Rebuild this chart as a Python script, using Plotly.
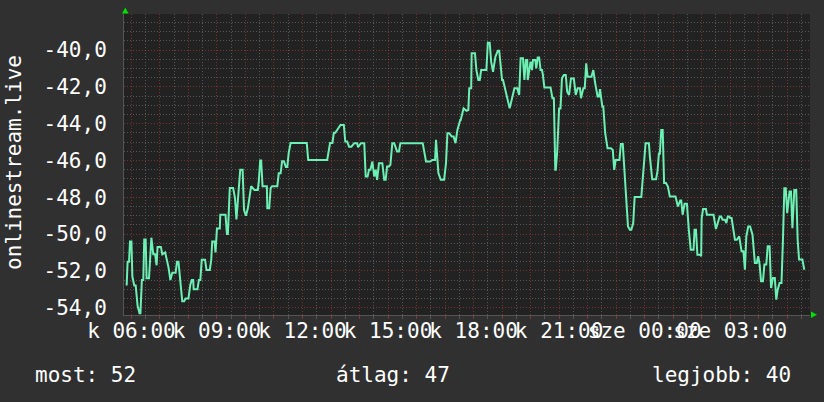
"""RRDtool-style signal chart for onlinestream.live, rebuilt with Plotly."""
import plotly.graph_objects as go

# sample times (tuesday 05:50 -> wednesday 05:36) and signal level in dB
TIMES = [
    "05:50", "05:52", "05:55", "05:57", "06:00", "06:02", "06:06", "06:09", "06:13", "06:17",
    "06:19", "06:22", "06:25", "06:27", "06:30", "06:32", "06:37", "06:42", "06:46", "06:50",
    "06:53", "06:55", "07:02", "07:05", "07:11", "07:18", "07:22", "07:26", "07:33", "07:36",
    "07:39", "07:42", "07:47", "07:51", "07:54", "08:00", "08:04", "08:07", "08:10", "08:11",
    "08:19", "08:22", "08:25", "08:28", "08:35", "08:38", "08:45", "08:48", "08:50", "08:55",
    "08:57", "09:00", "09:06", "09:07", "09:18", "09:21", "09:23", "09:27", "09:34", "09:38",
    "09:41", "09:49", "09:54", "09:57", "10:01", "10:05", "10:12", "10:19", "10:26", "10:28",
    "10:31", "10:33", "10:36", "10:45", "10:46", "10:50", "10:53", "10:56", "11:07", "11:10",
    "11:14", "11:17", "11:21", "11:25", "11:28", "11:31", "11:35", "12:09", "12:12", "12:52",
    "12:58", "13:03", "13:06", "13:09", "13:20", "13:27", "13:30", "13:34", "13:38", "13:43",
    "13:49", "13:55", "13:57", "14:03", "14:10", "14:13", "14:17", "14:20", "14:23", "14:27",
    "14:31", "14:34", "14:37", "14:41", "14:48", "14:52", "14:55", "14:58", "15:02", "15:05",
    "15:09", "15:13", "15:19", "15:23", "15:26", "16:13", "16:16", "16:20", "16:29", "16:33",
    "16:39", "16:41", "16:46", "16:51", "16:58", "17:02", "17:05", "17:09", "17:14", "17:18",
    "17:22", "17:26", "17:32", "17:33", "17:39", "17:45", "17:49", "17:51", "17:55", "17:56",
    "18:03", "18:06", "18:10", "18:13", "18:16", "18:27", "18:30", "18:34", "18:37", "18:41",
    "18:46", "18:51", "18:54", "19:00", "19:02", "19:07", "19:12", "19:16", "19:21", "19:26",
    "19:32", "19:36", "19:39", "19:44", "19:47", "19:50", "19:53", "19:54", "20:00", "20:03",
    "20:05", "20:10", "20:12", "20:15", "20:18", "20:21", "20:24", "20:26", "20:29", "20:42",
    "20:46", "20:49", "20:52", "20:53", "20:56", "21:00", "21:03", "21:06", "21:10", "21:14",
    "21:17", "21:21", "21:25", "21:31", "21:35", "21:39", "21:44", "21:46", "21:51", "21:54",
    "21:57", "22:00", "22:08", "22:12", "22:16", "22:21", "22:24", "22:26", "22:31", "22:33",
    "22:37", "22:42", "22:49", "22:53", "22:56", "22:59", "23:07", "23:10", "23:14", "23:18",
    "23:21", "23:25", "23:29", "23:32", "23:36", "23:39", "23:53", "23:57", "00:02", "00:09",
    "00:11", "00:16", "00:24", "00:27", "00:30", "00:32", "00:35", "00:38", "00:41", "00:45",
    "00:49", "00:53", "01:05", "01:10", "01:15", "01:17", "01:20", "01:24", "01:29", "01:33",
    "01:37", "01:43", "01:45", "01:48", "01:51", "01:57", "01:59", "02:00", "02:03", "02:09",
    "02:11", "02:25", "02:30", "02:38", "02:41", "02:44", "02:49", "02:52", "02:55", "02:58",
    "03:00", "03:03", "03:08", "03:10", "03:14", "03:19", "03:24", "03:28", "03:31", "03:34",
    "03:38", "03:42", "03:47", "03:50", "03:52", "03:56", "03:59", "04:02", "04:05", "04:09",
    "04:12", "04:16", "04:19", "04:23", "04:26", "04:30", "04:34", "04:37", "04:40", "04:44",
    "04:48", "04:51", "04:54", "04:57", "05:00", "05:05", "05:08", "05:11", "05:15", "05:19",
    "05:22", "05:25", "05:32", "05:36",
]
VALUES = [
    -52.8, -51.5, -51.5, -50.4, -50.4, -52.3, -52.8, -52.8, -53.9, -54.3,
    -54.3, -52.5, -52.5, -50.3, -50.3, -52.4, -52.4, -50.2, -51.1, -51.1,
    -51.7, -50.7, -50.7, -51.1, -51.0, -51.8, -52.5, -52.1, -52.1, -51.5,
    -51.5, -52.5, -53.65, -53.65, -53.5, -53.5, -52.75, -52.5, -52.5, -53.0,
    -53.0, -52.5, -52.5, -51.4, -51.4, -51.95, -51.95, -51.4, -50.4, -50.4,
    -51.0, -49.7, -49.7, -48.95, -48.95, -50.0, -50.0, -47.5, -47.5, -48.05,
    -49.2, -46.5, -46.5, -48.7, -49.0, -48.6, -47.4, -47.6, -47.6, -47.15,
    -46.0, -46.0, -47.4, -47.4, -48.6, -48.6, -47.5, -47.4, -47.4, -46.7,
    -46.7, -46.05, -46.05, -46.35, -46.35, -45.6, -45.05, -45.05, -45.97, -45.97,
    -45.05, -45.05, -44.5, -44.5, -44.07, -44.07, -44.97, -44.97, -45.25, -45.25,
    -45.06, -45.06, -45.28, -45.06, -45.06, -46.87, -46.87, -46.5, -46.5, -46.06,
    -46.87, -46.5, -47.05, -46.15, -46.15, -47.05, -47.05, -46.33, -46.33, -46.24,
    -45.06, -45.06, -45.52, -45.52, -45.06, -45.06, -45.61, -46.06, -46.06, -45.97,
    -45.97, -44.88, -46.69, -47.05, -47.05, -46.15, -44.52, -44.52, -44.7, -44.7,
    -45.06, -44.34, -43.8, -43.8, -43.17, -43.3, -43.26, -42.08, -42.08, -40.18,
    -40.18, -41.09, -41.63, -41.63, -41.09, -41.09, -39.6, -39.6, -40.63, -41.18,
    -40.36, -40.04, -40.04, -41.63, -41.63, -42.17, -42.71, -43.17, -42.62, -42.08,
    -42.08, -42.44, -40.45, -40.45, -41.63, -40.54, -40.54, -41.63, -40.63, -41.09,
    -40.54, -40.54, -40.99, -40.4, -40.4, -41.09, -41.09, -41.36, -42.03, -42.03,
    -42.62, -42.62, -46.51, -46.51, -45.52, -43.17, -43.17, -41.54, -41.36, -41.36,
    -42.26, -42.44, -41.54, -41.54, -42.44, -42.08, -42.08, -42.62, -42.08, -42.08,
    -40.72, -41.45, -41.45, -41.09, -41.81, -42.53, -42.53, -42.13, -43.07, -43.07,
    -44.52, -45.34, -45.34, -45.43, -46.51, -45.97, -45.97, -45.1, -45.1, -46.69,
    -48.5, -49.59, -49.77, -49.77, -49.4, -47.99, -47.99, -46.78, -45.06, -45.06,
    -45.79, -47.02, -47.02, -46.6, -45.64, -45.64, -44.34, -44.34, -47.23, -47.23,
    -47.42, -47.96, -47.96, -48.5, -48.17, -48.17, -48.95, -48.36, -48.36, -49.77,
    -50.85, -50.85, -49.77, -49.77, -51.12, -51.12, -51.2, -49.13, -48.64, -48.64,
    -48.95, -48.95, -49.73, -49.04, -49.04, -49.22, -49.22, -49.4, -49.04, -49.04,
    -49.13, -49.13, -49.95, -50.31, -50.31, -50.13, -50.94, -50.94, -51.94, -50.13,
    -49.59, -49.59, -50.04, -50.94, -51.57, -51.57, -51.2, -51.66, -52.57, -52.57,
    -51.66, -51.66, -50.67, -50.67, -52.93, -52.39, -52.39, -53.57, -53.02, -52.66,
    -52.66, -50.4, -47.51, -47.51, -48.86, -47.69, -47.69, -49.68, -47.6, -47.6,
    -50.31, -51.39, -51.39, -51.94,
]

Y_TICKS = [-54, -52, -50, -48, -46, -44, -42, -40]
Y_TICK_LABELS = ["-54,0", "-52,0", "-50,0", "-48,0", "-46,0", "-44,0", "-42,0", "-40,0"]
X_LABEL_HOURS = [6, 9, 12, 15, 18, 21, 24, 27]
X_LABELS = ["k 06:00", "k 09:00", "k 12:00", "k 15:00", "k 18:00", "k 21:00",
            "sze 00:00", "sze 03:00"]
SUMMARY = [("most", 52), ("átlag", 47), ("legjobb", 40)]
SERIES_NAME = "onlinestream.live"

BACK = "#303030"
CANVAS = "#222222"
LINE = "#6cf0b4"
MAJOR_GRID = "rgba(255,80,80,0.38)"
MINOR_GRID = "#575757"
FONT = "DejaVu Sans Mono"

X_RANGE = [5.74, 29.8]
Y_RANGE = [-54.40, -38.04]


def to_hours(times):
    """HH:MM strings -> hours since the first midnight, rolling over past 24h."""
    out, offset, prev = [], 0, None
    for t in times:
        h, m = map(int, t.split(":"))
        val = h + m / 60 + offset
        if prev is not None and val < prev:
            offset += 24
            val += 24
        out.append(val)
        prev = val
    return out


hours = to_hours(TIMES)
assert len(hours) == len(VALUES)

major_x = list(range(6, 30))
major_x_text = [X_LABELS[X_LABEL_HOURS.index(h)] if h in X_LABEL_HOURS else "" for h in major_x]
minor_x = [h + 0.5 for h in range(5, 30)]
minor_y = [v / 2 for v in range(-108, -76) if v % 4 != 0]

fig = go.Figure()
fig.add_trace(go.Scatter(
    x=hours, y=VALUES, mode="lines", name=SERIES_NAME,
    line=dict(color=LINE, width=2), hoverinfo="skip",
))

axis_font = dict(family=FONT, size=21, color="#ffffff")
fig.update_xaxes(
    range=X_RANGE, tickmode="array", tickvals=major_x, ticktext=major_x_text,
    tickangle=0, tickfont=axis_font, ticks="outside", ticklen=3,
    tickcolor=MAJOR_GRID, showgrid=True, gridcolor=MAJOR_GRID, griddash="1px,2px",
    gridwidth=1, zeroline=False, showline=True, linecolor="#555555", linewidth=1,
    automargin=False, ticklabelstandoff=-6,
    minor=dict(tickmode="array", tickvals=minor_x, showgrid=True, gridcolor=MINOR_GRID,
               griddash="1px,2px", ticks="outside", ticklen=3, tickcolor=MINOR_GRID),
)
fig.update_yaxes(
    range=Y_RANGE, tickmode="array", tickvals=Y_TICKS, ticktext=Y_TICK_LABELS,
    tickfont=axis_font, ticks="", ticklabelstandoff=12, automargin=False,
    showgrid=True, gridcolor=MAJOR_GRID, griddash="1px,2px", gridwidth=1,
    zeroline=False, showline=True, linecolor="#555555", linewidth=1,
    minor=dict(tickmode="array", tickvals=minor_y, showgrid=True, gridcolor=MINOR_GRID,
               griddash="1px,2px"),
)

L, R, T, B = 124, 14, 14, 87
W, H = 824, 402
pw, ph = W - L - R, H - T - B


def px(x):
    return (x - L) / pw


def py(y):
    return (H - B - y) / ph


annotations = [dict(
    text=SERIES_NAME, x=px(14), y=py(163), xref="paper", yref="paper",
    textangle=-90, showarrow=False, xanchor="center", yanchor="middle",
    font=axis_font,
)]
summary_left = [33, 334, 650]
for (label, val), left in zip(SUMMARY, summary_left):
    annotations.append(dict(
        text=f"{label}: {val}", x=px(left), y=py(375), xref="paper", yref="paper",
        showarrow=False, xanchor="left", yanchor="middle", font=axis_font,
    ))

arrow_up = [(122, 13.5), (128.5, 13.5), (125.3, 7.5)]
arrow_right = [(811, 311.5), (811, 318), (817, 314.7)]
shapes = []
for tri in (arrow_up, arrow_right):
    path = "M " + " L ".join(f"{px(a):.5f},{py(b):.5f}" for a, b in tri) + " Z"
    shapes.append(dict(type="path", path=path, xref="paper", yref="paper",
                       fillcolor="#00e000", line=dict(width=0)))

fig.update_layout(
    width=W, height=H, margin=dict(l=L, r=R, t=T, b=B),
    paper_bgcolor=BACK, plot_bgcolor=CANVAS, showlegend=False,
    font=dict(family=FONT, color="#ffffff"),
    annotations=annotations, shapes=shapes,
)

# the page's default body margin would shift the 824x402 figure off the window
fig.write_html(
    "out.html",
    config={"displayModeBar": False},
    post_script="document.body.style.margin='0px';document.body.style.background='%s';" % BACK,
)
